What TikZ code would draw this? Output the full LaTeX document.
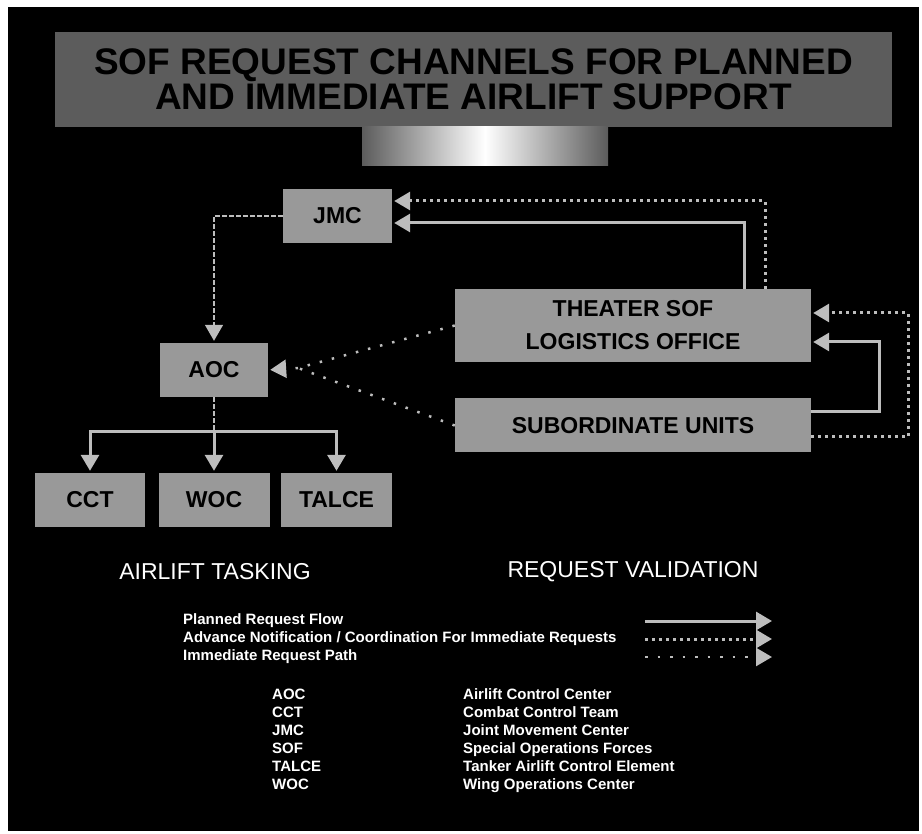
\documentclass[tikz,border=0pt]{standalone}
\usepackage{fontspec}
\setmainfont{Liberation Sans}
\usetikzlibrary{arrows.meta,calc}
\definecolor{bannergray}{gray}{0.36}
\definecolor{boxgray}{gray}{0.60}
\definecolor{linegray}{gray}{0.74}
\tikzset{
  box/.style={fill=boxgray, inner sep=0pt, align=center, text=black,
    font=\bfseries\fontsize{23}{33}\selectfont},
  tiptri/.style={-{Triangle[width=18pt,length=16pt]}, shorten >=2pt},
  planned/.style={draw=linegray, line width=3pt, tiptri},
  advance/.style={draw=linegray, line width=3pt, dash pattern=on 3pt off 4pt, tiptri},
  immline/.style={draw=linegray, line width=2.5pt, dash pattern=on 2.5pt off 10pt},
  immediate/.style={immline, tiptri},
  thinline/.style={draw=linegray, line width=1.5pt, dash pattern=on 5pt off 2pt},
  thinarrow/.style={thinline, tiptri},
  heading/.style={text=white, font=\fontsize{23}{26}\selectfont},
  legendtext/.style={text=white, anchor=west, inner sep=0pt, font=\bfseries\fontsize{15}{18}\selectfont},
}
\begin{document}
\begin{tikzpicture}[x=1pt,y=-1pt]
\useasboundingbox (0,0) rectangle (922,834);
\fill[white] (0,0) rectangle (922,834);
\fill[black] (8,7) rectangle (919,831);

% title banner
\node[fill=bannergray, minimum width=837pt, minimum height=95pt, inner sep=0pt,
  align=center, text=black, font=\bfseries\fontsize{37}{35}\selectfont]
  (title) at (473.5,79.5) {SOF REQUEST CHANNELS FOR PLANNED\\AND IMMEDIATE AIRLIFT SUPPORT};
\shade[left color=bannergray, right color=bannergray, middle color=white]
  (362,127) rectangle (608,166);

% boxes
\node[box, minimum width=109pt, minimum height=54pt] (jmc) at (337.5,216) {JMC};
\node[box, minimum width=108pt, minimum height=54pt] (aoc) at (214,370) {AOC};
\node[box, minimum width=110pt, minimum height=54pt] (cct) at (90,500) {CCT};
\node[box, minimum width=111pt, minimum height=54pt] (woc) at (214,500) {WOC};
\node[box, minimum width=111pt, minimum height=54pt] (talce) at (336.5,500) {TALCE};
\node[box, minimum width=356pt, minimum height=73pt] (theater) at (633,325.5) {THEATER SOF\\LOGISTICS OFFICE};
\node[box, minimum width=356pt, minimum height=54pt] (sub) at (633,425.5) {SUBORDINATE UNITS};

% headings
\node[heading] (tasking) at (215,572) {AIRLIFT TASKING};
\node[heading] (validation) at (633,572) {REQUEST VALIDATION};

% connectors: tasking side
\draw[thinarrow] (jmc.west) -| (aoc.north);
\coordinate (junc) at (214,432);
\draw[thinline] (aoc.south) -- (junc);
\draw[planned] (junc) -| (cct.north);
\draw[planned] (junc) -- (woc.north);
\draw[planned] (junc) -| (talce.north);

% validation to JMC
\coordinate (pj) at (744,223);
\coordinate (aj) at (765,201);
\draw[planned] (theater.north -| pj) |- (pj -| jmc.east);
\draw[advance] (theater.north -| aj) |- (aj -| jmc.east);

% subordinate to theater
\coordinate (ps) at (879,412);
\coordinate (pr) at (879,342);
\draw[planned] (ps -| sub.east) -- (ps) -- (pr) -- (pr -| theater.east);
\coordinate (as) at (908,437);
\coordinate (ar) at (908,313);
\draw[advance] (as -| sub.east) -- (as) -- (ar) -- (ar -| theater.east);

% immediate requests to AOC
\coordinate (im) at (298,368);
\draw[immline] (theater.west) -- (im);
\draw[immline] (sub.west) -- (im);
\draw[immediate] (im) -- (aoc.east);

% legend
\node[legendtext] (l1) at (183,621) {Planned Request Flow};
\node[legendtext] (l2) at (183,639) {Advance Notification / Coordination For Immediate Requests};
\node[legendtext] (l3) at (183,657) {Immediate Request Path};
\coordinate (a1s) at (645,621); \coordinate (a1e) at (774,621);
\coordinate (a2s) at (645,639); \coordinate (a2e) at (774,639);
\coordinate (a3s) at (645,657); \coordinate (a3e) at (774,657);
\draw[planned] (a1s) -- (a1e);
\draw[advance] (a2s) -- (a2e);
\draw[immediate] (a3s) -- (a3e);

% glossary
\node[anchor=north west, inner sep=0pt, text=white, font=\bfseries\fontsize{15}{18}\selectfont]
  (gloss) at (272,687) {%
  \begin{tabular}{@{}p{191pt}@{}l@{}}
  AOC & Airlift Control Center\\
  CCT & Combat Control Team\\
  JMC & Joint Movement Center\\
  SOF & Special Operations Forces\\
  TALCE & Tanker Airlift Control Element\\
  WOC & Wing Operations Center
  \end{tabular}};
\end{tikzpicture}
\end{document}
